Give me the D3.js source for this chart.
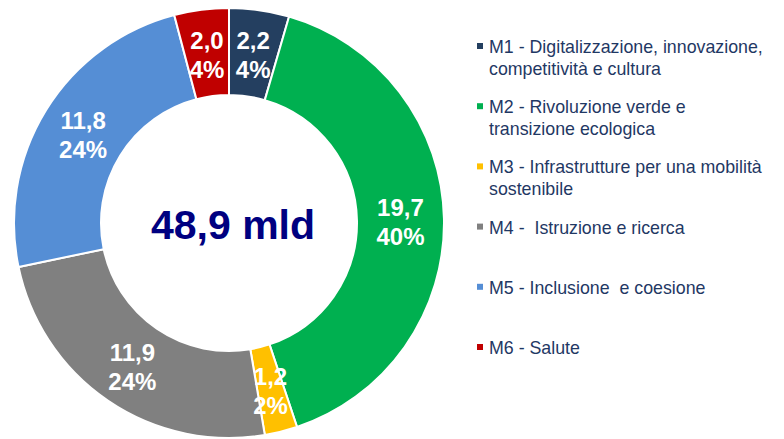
<!DOCTYPE html>
<html>
<head>
<meta charset="utf-8">
<title>PNRR missioni</title>
<script src="https://d3js.org/d3.v7.min.js"></script>
<style>
  body { margin: 0; background: #fff; }
  svg { display: block; font-family: "Liberation Sans", Arial, sans-serif; }
</style>
</head>
<body>
<svg width="784" height="439"></svg>
<script>
// data
var codes = ["M1", "M2", "M3", "M4", "M5", "M6"];
var values = [2.2, 19.7, 1.2, 11.9, 11.8, 2.0];
var legendLines = [
  ["M1 - Digitalizzazione, innovazione,", "competitività e cultura"],
  ["M2 - Rivoluzione verde e", "transizione ecologica"],
  ["M3 - Infrastrutture per una mobilità", "sostenibile"],
  ["M4 -  Istruzione e ricerca"],
  ["M5 - Inclusione  e coesione"],
  ["M6 - Salute"]
];
var colors = ["#243F60", "#00B050", "#FFC000", "#808080", "#558ED5", "#C00000"];
var total = 48.9;
var centerLabel = "48,9 mld";

var svg = d3.select("svg");
var cx = 229, cy = 223, outerR = 215, innerR = 128;

var fmt = function (v) { return d3.format(".1f")(v).replace(".", ","); };

var pie = d3.pie().sort(null).value(function (d) { return d; });
var arc = d3.arc().innerRadius(innerR).outerRadius(outerR);
var labelArc = d3.arc().innerRadius((innerR + outerR) / 2).outerRadius((innerR + outerR) / 2);

var g = svg.append("g").attr("transform", "translate(" + cx + "," + cy + ")");
var arcs = pie(values);

g.selectAll("path.slice")
  .data(arcs)
  .enter().append("path")
  .attr("class", "slice")
  .attr("d", arc)
  .attr("fill", function (d, i) { return colors[i]; })
  .attr("stroke", "#fff")
  .attr("stroke-width", 2);

// slice labels
var lab = g.selectAll("text.lab")
  .data(arcs)
  .enter().append("text")
  .attr("class", "lab")
  .attr("transform", function (d) { return "translate(" + labelArc.centroid(d) + ")"; })
  .attr("text-anchor", "middle")
  .attr("fill", "#fff")
  .attr("font-weight", "bold")
  .attr("font-size", 24);
lab.append("tspan").attr("x", 0).attr("y", -4)
  .text(function (d) { return fmt(d.value); });
lab.append("tspan").attr("x", 0).attr("y", 25)
  .text(function (d) { return Math.round(d.value / total * 100) + "%"; });

// center total
g.append("text")
  .attr("text-anchor", "middle")
  .attr("x", 4)
  .attr("y", 16)
  .attr("fill", "#000080")
  .attr("font-weight", "bold")
  .attr("font-size", 41)
  .text(centerLabel);

// legend
var legendY = d3.scalePoint().domain(codes).range([47, 348]);
var lg = svg.selectAll("g.leg")
  .data(codes)
  .enter().append("g")
  .attr("class", "leg")
  .attr("transform", function (d) { return "translate(477," + legendY(d) + ")"; });

lg.append("rect")
  .attr("x", 0).attr("y", -4)
  .attr("width", 6).attr("height", 6)
  .attr("fill", function (d, i) { return colors[i]; });

lg.each(function (d, i) {
  var t = d3.select(this).append("text")
    .attr("fill", "#1F3864")
    .attr("font-size", 17.8)
    .attr("xml:space", "preserve");
  legendLines[i].forEach(function (line, j) {
    t.append("tspan").attr("x", 12).attr("y", 6 + j * 22).text(line);
  });
});
</script>
</body>
</html>
